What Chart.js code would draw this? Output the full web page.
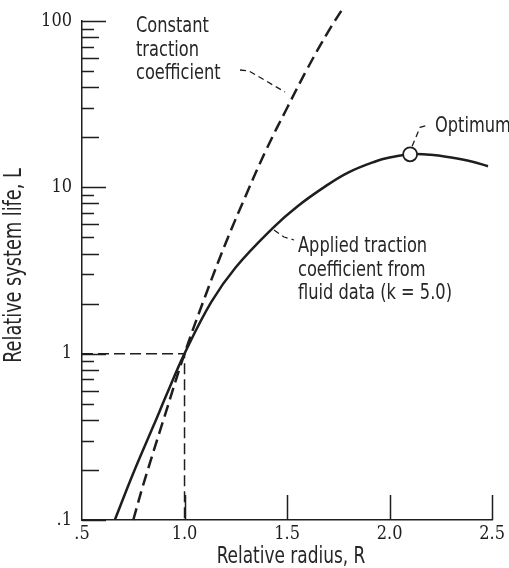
<!DOCTYPE html>
<html>
<head>
<meta charset="utf-8">
<script src="https://cdn.jsdelivr.net/npm/chart.js@4.4.1/dist/chart.umd.min.js"></script>
<style>
  body { margin: 0; background: #fff; }
  canvas { display: block; }
</style>
</head>
<body>
<canvas id="chartLife" width="509" height="568"></canvas>
<script>
// Relative radius R vs. relative system life L

// Constant traction coefficient (dashed)
const constR = [0.75, 0.8, 0.9, 1.0, 1.1, 1.2, 1.3, 1.4, 1.5, 1.6, 1.7, 1.77];
const constL = [0.1, 0.165, 0.41, 1.0, 2.2, 4.6, 9.0, 17, 30, 52, 86, 118];

// Applied traction coefficient from fluid data, k = 5.0 (solid)
const appliedR = [0.66, 0.75, 0.85, 0.92, 1.0, 1.13, 1.25, 1.43, 1.55, 1.69, 1.8, 1.93, 2.0, 2.1, 2.2, 2.3, 2.4, 2.48];
const appliedL = [0.1, 0.191, 0.372, 0.596, 1.0, 2.04, 3.31, 5.69, 7.67, 10.2, 12.3, 14.3, 15.1, 15.8, 15.7, 15.1, 14.3, 13.4];

// Optimum point on the applied curve
const optimumR = [2.1];
const optimumL = [15.8];

// Reference lines through R = 1, L = 1
const refR = [0.5, 1.0, 1.0];
const refL = [1.0, 1.0, 0.1];

// Axis ticks
const xTickValues = [0.5, 1.0, 1.5, 2.0, 2.5];
const xTickLabels = ['.5', '1.0', '1.5', '2.0', '2.5'];
const yTickValues = [0.1, 1, 10, 100];
const yTickLabels = ['.1', '1', '10', '100'];

const INK = '#1e1e1e';
const TEXT = '#262626';
const SANS = '"DejaVu Sans Condensed", "DejaVu Sans", sans-serif';
const DIGITS = '"DejaVu Serif Condensed", "DejaVu Serif", serif';
const SQUEEZE = 0.82;

const toPoints = (xs, ys) => xs.map((v, i) => ({ x: v, y: ys[i] }));

// White background
const background = {
    id: 'background',
    beforeDraw(chart) {
        const { ctx } = chart;
        ctx.save();
        ctx.fillStyle = '#fff';
        ctx.fillRect(0, 0, chart.width, chart.height);
        ctx.restore();
    }
};

// Inward tick marks: log minor ticks on L, majors on R
const axisTicks = {
    id: 'axisTicks',
    beforeDatasetsDraw(chart) {
        const { ctx, chartArea, scales: { x, y } } = chart;
        ctx.save();
        ctx.strokeStyle = INK;
        ctx.lineWidth = 1.5;
        ctx.beginPath();
        [0.1, 1, 10].forEach(dec => {
            for (let m = 1; m <= 9; m++) {
                const py = Math.round(y.getPixelForValue(m * dec)) + 0.5;
                const len = m === 1 ? 24 : (m % 2 === 0 ? 17 : 12);
                ctx.moveTo(chartArea.left, py);
                ctx.lineTo(chartArea.left + len, py);
            }
        });
        const top = Math.round(y.getPixelForValue(100)) + 0.5;
        ctx.moveTo(chartArea.left, top);
        ctx.lineTo(chartArea.left + 24, top);
        xTickValues.slice(1).forEach(v => {
            const px = Math.round(x.getPixelForValue(v)) + 0.5;
            ctx.moveTo(px, chartArea.bottom);
            ctx.lineTo(px, chartArea.bottom - 25);
        });
        ctx.stroke();
        ctx.restore();
    }
};

// narrow lettering: horizontally squeezed text
function squeezed(ctx, text, x, y, angle) {
    ctx.save();
    ctx.translate(x, y);
    if (angle) ctx.rotate(angle);
    ctx.scale(SQUEEZE, 1);
    ctx.fillText(text, 0, 0);
    ctx.restore();
}

// Axis titles, curve labels and dashed leaders
const notes = {
    id: 'notes',
    afterDraw(chart) {
        const { ctx, chartArea, scales: { x, y } } = chart;
        ctx.save();
        ctx.fillStyle = TEXT;
        ctx.textBaseline = 'alphabetic';

        ctx.font = '23px ' + SANS;
        ctx.textAlign = 'center';
        squeezed(ctx, 'Relative radius, R', 291, 563);
        ctx.font = '24px ' + SANS;
        squeezed(ctx, 'Relative system life, L', 21, (chartArea.top + chartArea.bottom) / 2 - 5, -Math.PI / 2);

        ctx.font = '22px ' + SANS;
        ctx.textAlign = 'left';
        const write = (lines, left, base) => {
            lines.forEach((t, i) => squeezed(ctx, t, left, base + i * 23.5));
        };
        write(['Constant', 'traction', 'coefficient'], 136, 32);
        write(['Optimum'], 435, 132);
        write(['Applied traction', 'coefficient from', 'fluid data (k = 5.0)'], 298, 252);

        ctx.strokeStyle = INK;
        ctx.lineWidth = 1.3;
        ctx.setLineDash([6, 4]);
        const leader = pts => {
            ctx.beginPath();
            pts.forEach(([a, b], i) => i ? ctx.lineTo(a, b) : ctx.moveTo(a, b));
            ctx.stroke();
        };
        leader([[240, 70], [249, 71], [285, 92]]);
        const ox = x.getPixelForValue(optimumR[0]);
        const oy = y.getPixelForValue(optimumL[0]);
        leader([[ox + 2, oy - 8], [ox + 10, oy - 27], [ox + 17, oy - 29]]);
        leader([[274, 230], [284, 237], [294, 240]]);
        ctx.restore();
    }
};

new Chart(document.getElementById('chartLife').getContext('2d'), {
    type: 'line',
    data: {
        datasets: [
            {
                data: toPoints(optimumR, optimumL),
                showLine: false,
                pointRadius: 7,
                pointBackgroundColor: '#fff',
                pointBorderColor: INK,
                pointBorderWidth: 1.8,
                order: 0
            },
            {
                data: toPoints(appliedR, appliedL),
                borderColor: INK,
                borderWidth: 2.5,
                pointRadius: 0,
                tension: 0.4,
                order: 1
            },
            {
                data: toPoints(constR, constL),
                borderColor: INK,
                borderWidth: 2.5,
                borderDash: [12, 6],
                pointRadius: 0,
                tension: 0.4,
                clip: false,
                order: 2
            },
            {
                data: toPoints(refR, refL),
                borderColor: INK,
                borderWidth: 1.5,
                borderDash: [11, 5],
                pointRadius: 0,
                tension: 0,
                order: 3
            }
        ]
    },
    options: {
        responsive: false,
        animation: false,
        layout: { padding: { top: 21, right: 16, left: 0, bottom: 0 } },
        plugins: {
            legend: { display: false },
            tooltip: { enabled: false }
        },
        scales: {
            x: {
                type: 'linear',
                min: 0.5,
                max: 2.5,
                afterBuildTicks: s => { s.ticks = xTickValues.map(v => ({ value: v })); },
                afterFit: s => { s.height = 48; },
                grid: { display: false, drawTicks: false },
                border: { display: true, color: INK, width: 1.5 },
                ticks: {
                    color: INK,
                    padding: 4,
                    maxRotation: 0,
                    font: { family: DIGITS, size: 18 },
                    callback: (v, i) => xTickLabels[i]
                }
            },
            y: {
                type: 'logarithmic',
                min: 0.1,
                max: 100,
                afterBuildTicks: s => { s.ticks = yTickValues.map(v => ({ value: v })); },
                afterFit: s => { s.width = 82; },
                grid: { display: false, drawTicks: false },
                border: { display: true, color: INK, width: 1.5 },
                ticks: {
                    color: INK,
                    padding: 10,
                    font: { family: DIGITS, size: 18 },
                    callback: (v, i) => yTickLabels[i]
                }
            }
        }
    },
    plugins: [background, axisTicks, notes]
});
</script>
</body>
</html>
